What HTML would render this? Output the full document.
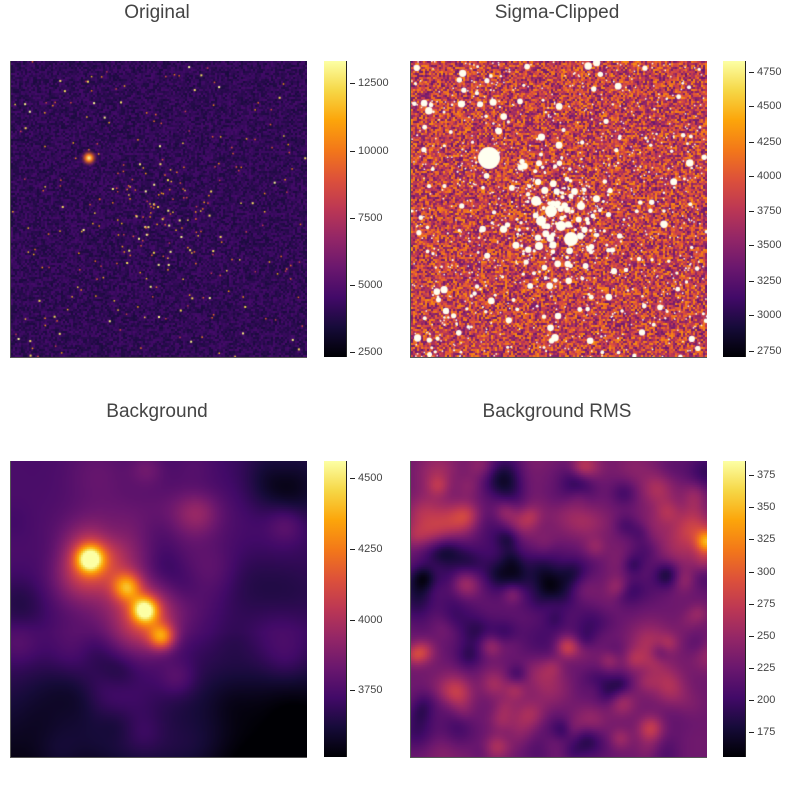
<!DOCTYPE html>
<html><head><meta charset="utf-8"><style>
body{margin:0;background:#fff;width:799px;height:800px;position:relative;overflow:hidden;font-family:"Liberation Sans",sans-serif}
.t{position:absolute;font-size:19px;color:#444;transform:translateX(-50%);white-space:nowrap}
canvas{position:absolute}
.img{border-left:1px solid #555;border-bottom:1px solid #555}
.cb{position:absolute;border-right:1.5px solid #222}
.tk{position:absolute;font-size:11px;color:#444;line-height:12px}
.tk:before{content:"";position:absolute;left:-8px;top:6px;width:5px;height:1px;background:#222}
</style></head><body>
<div class="t" style="left:157px;top:2px">Original</div>
<div class="t" style="left:557px;top:2px">Sigma-Clipped</div>
<div class="t" style="left:157px;top:401px">Background</div>
<div class="t" style="left:557px;top:401px">Background RMS</div>
<canvas id="c1" class="img" width="296" height="296" style="left:10px;top:61px"></canvas>
<canvas id="c2" class="img" width="296" height="296" style="left:410px;top:61px"></canvas>
<canvas id="c3" class="img" width="296" height="296" style="left:10px;top:461px"></canvas>
<canvas id="c4" class="img" width="296" height="296" style="left:410px;top:461px"></canvas>
<div id="cbs"></div>
<script>
var st=[[0,0,0,4],[.1,22,11,57],[.2,66,10,104],[.3,106,23,110],[.4,147,38,103],[.5,188,55,84],[.6,221,81,58],[.7,243,120,25],[.8,252,165,10],[.9,246,215,70],[1,252,255,164]];
function cm(v){v=Math.max(0,Math.min(1,v));for(var i=1;i<st.length;i++){if(v<=st[i][0]){var a=st[i-1],b=st[i],f=(v-a[0])/(b[0]-a[0]);return [a[1]+f*(b[1]-a[1]),a[2]+f*(b[2]-a[2]),a[3]+f*(b[3]-a[3])];}}return [252,255,164];}
var s=12345;function r(){s=(s*16807)%2147483647;return s/2147483647;}
function gn(){return (r()+r()+r()-1.5)*1.4;}
var stars=[];for(var i=0;i<600;i++){var x,y;if(i<160){x=150+gn()*40;y=160+gn()*40;}else{x=r()*296;y=r()*296;}stars.push([x,y,r()]);}
function draw(id,f,blk){var c=document.getElementById(id).getContext('2d');var d=c.createImageData(296,296);
for(var y=0;y<296;y+=blk)for(var x=0;x<296;x+=blk){var col=cm(f(x,y));for(var yy=y;yy<Math.min(296,y+blk);yy++)for(var xx=x;xx<Math.min(296,x+blk);xx++){var k=(yy*296+xx)*4;d.data[k]=col[0];d.data[k+1]=col[1];d.data[k+2]=col[2];d.data[k+3]=255;}}
c.putImageData(d,0,0);return c;}
var c1=draw('c1',function(){return 0.11+r()*0.1;},2);
stars.forEach(function(p,i){if(i%2)return;var col=cm(0.5+p[2]*0.5);c1.fillStyle='rgb('+col.map(Math.round)+')';c1.fillRect(p[0],p[1],p[2]>0.8?2:1.5,p[2]>0.8?2:1.5);});
var g=c1.createRadialGradient(78,97,0,78,97,9);g.addColorStop(0,'#fcffa4');g.addColorStop(.35,'#f37819');g.addColorStop(1,'rgba(106,23,110,0)');c1.fillStyle=g;c1.fillRect(68,87,20,20);
var c2=draw('c2',function(){return 0.3+r()*0.45;},2);
c2.fillStyle='#fffff0';
stars.forEach(function(p){var rr=0.8+p[2]*p[2]*p[2]*3;c2.beginPath();c2.arc(p[0],p[1],rr,0,7);c2.fill();});
for(var i=0;i<500;i++){c2.fillRect(r()*296,r()*296,1.5,1.5);}
c2.beginPath();c2.arc(78,97,11,0,7);c2.fill();
[[125,140,5],[140,150,6],[130,160,5],[160,178,7],[150,165,5],[128,185,4],[170,145,4]].forEach(function(b){c2.beginPath();c2.arc(b[0],b[1],b[2],0,7);c2.fill();});
function smooth(id,base,blobs,amp,n,seed,smin,srng){s=seed;var g=[];for(var i=0;i<n;i++)g.push([r()*296,r()*296,smin+r()*srng,(r()-0.5)*amp]);
draw(id,function(x,y){var v=base(x,y);g.concat(blobs).forEach(function(b){var dx=x-b[0],dy=y-b[1];v+=b[3]*Math.exp(-(dx*dx+dy*dy)/(2*b[2]*b[2]));});return v;},2);}
smooth('c3',function(x,y){return 0.22-0.19*Math.max(0,(y-170)/126)-0.05*(x/296);},[[78,97,9,0.55],[78,97,20,0.25],[115,125,10,0.4],[133,148,9,0.55],[133,148,20,0.2],[150,175,9,0.4],[120,130,40,0.15],[90,90,30,0.15]],0.2,70,777,12,18);
smooth('c4',function(){return 0.31;},[[155,185,8,0.25],[80,185,8,0.15],[296,80,8,0.4],[10,190,8,0.15]],0.28,260,999,7,8);
var cbs=[[324,61,[[12500,83],[10000,151],[7500,218],[5000,285],[2500,352]]],[723,61,[[4750,72],[4500,106],[4250,142],[4000,176],[3750,211],[3500,245],[3250,281],[3000,315],[2750,351]]],[324,461,[[4500,478],[4250,549],[4000,620],[3750,690]]],[723,461,[[375,475],[350,507],[325,539],[300,572],[275,604],[250,636],[225,668],[200,700],[175,732]]]];
var h='';cbs.forEach(function(c){var gs=[];for(var i=0;i<=10;i++){var col=cm(1-i/10);gs.push('rgb('+col.map(Math.round)+') '+(i*10)+'%');}
h+='<div class="cb" style="left:'+c[0]+'px;top:'+c[1]+'px;width:22px;height:296px;background:linear-gradient('+gs.join(',')+')"></div>';
c[2].forEach(function(t){h+='<div class="tk" style="left:'+(c[0]+34)+'px;top:'+(t[1]-6)+'px">'+t[0]+'</div>';});});
document.getElementById('cbs').innerHTML=h;
</script>
</body></html>
